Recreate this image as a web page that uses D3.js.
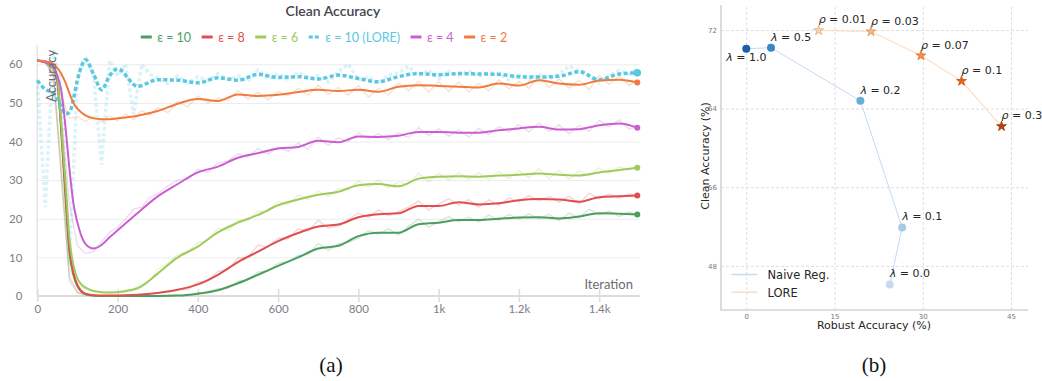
<!DOCTYPE html>
<html>
<head>
<meta charset="utf-8">
<script src="https://cdn.jsdelivr.net/npm/d3@7"></script>
<style>
  body { margin: 0; background: #fff; }
  svg { display: block; }
</style>
</head>
<body>
<svg id="chart" width="1042" height="381"></svg>
<script>
// ---------------- (a) training curves ----------------
const iters = [0, 20, 40, 50, 60, 70, 80, 90, 100, 110, 120, 140, 160, 180, 200,
  250, 300, 350, 400, 450, 500, 550, 600, 650, 700, 750, 800, 850, 900, 950,
  1000, 1050, 1100, 1150, 1200, 1250, 1300, 1350, 1400, 1450, 1495];

const eps10 = [61, 60.5, 59, 55.5, 42, 26, 11.5, 5.5, 2.5, 1.1, 0.5, 0.1, 0, 0, 0,
  0, 0, 0.1, 0.6, 1.5, 3.3, 5.5, 7.8, 10, 12.3, 13, 15.5, 16.4, 16.4, 18.6,
  19, 19.7, 19.7, 20, 20.3, 20.4, 20.1, 20.6, 21.4, 21.3, 21.1];
const eps8 = [61, 60.5, 59, 56, 43, 27.5, 12.5, 6, 2.8, 1.3, 0.6, 0.2, 0.1, 0.1, 0.1,
  0.3, 0.8, 1.6, 3, 5.5, 8.8, 11.5, 14.2, 16.3, 18, 18.5, 20.4, 21.2, 21.4, 23.3,
  23.3, 24.3, 23.7, 24, 24.8, 25.1, 25, 24.4, 25.6, 25.8, 26];
const eps6 = [61, 60.5, 59, 56.5, 44, 30, 15, 8, 4.5, 3, 2.2, 1.3, 1, 0.9, 1,
  2, 5.8, 10, 12.8, 16.5, 19, 21, 23.5, 25, 26.2, 27, 28.7, 29, 28.4, 30.4,
  30.9, 31, 30.9, 31.2, 31.4, 31.7, 31.4, 31.2, 32, 32.6, 33.2];
const lore10 = [55.8, 53.5, 52.5, 51, 49, 47.2, 47.5, 51, 56, 59.5, 61.2, 57.5, 53.4, 57, 58.8,
  54.3, 56, 55.9, 55.2, 56.5, 55.9, 57.4, 56.6, 56.8, 56.2, 57.2, 56.3, 55.5, 56.8, 57.6,
  57.3, 57.6, 57.5, 57.4, 56.8, 56.7, 56.9, 58.1, 56, 57.5, 57.8];
const eps4 = [61, 60.5, 59.5, 57, 53, 44, 33, 24, 19, 15.5, 13.5, 12.3, 13.2, 15.2, 17,
  21.5, 25.8, 29, 32, 33.5, 35.8, 37, 38.2, 38.6, 40.2, 39.8, 41.3, 41.2, 41.5, 42.5,
  42.5, 42.3, 42.3, 42.9, 43.4, 43.8, 43.1, 43.2, 44.2, 44.7, 43.6];
const eps2 = [61, 60.8, 60, 59, 57.5, 55.3, 52.5, 50, 48.5, 47.5, 46.8, 46, 45.8, 45.8, 46,
  46.7, 47.9, 49.8, 51, 50.5, 52.2, 51.8, 52.1, 52.8, 53.4, 53.1, 53.4, 52.9, 54.2, 54.6,
  54.4, 54.2, 54, 55, 54.5, 55.9, 55, 54.7, 55.8, 56, 55.3];

// raw (unsmoothed) runs, drawn faint behind the smoothed ones
const rawIters = [0, 20, 40, 60, 80, 100, 120, 140, 160, 180, 200, 220, 240, 260, 280, 300,
  325, 350, 375, 400, 425, 450, 475, 500, 525, 550, 575, 600, 625, 650, 675, 700,
  725, 750, 775, 800, 825, 850, 875, 900, 925, 950, 975, 1000, 1025, 1050, 1075, 1100,
  1125, 1150, 1175, 1200, 1225, 1250, 1275, 1300, 1325, 1350, 1375, 1400, 1425, 1450, 1475, 1495];

const eps10Raw = [61.2, 60.4, 57, 30, 4, 0.8, 0.2, 0, 0, 0.1, 0, 0, 0.1, 0, 0, 0.1,
  0, 0.2, 0.1, 0.8, 1, 1.9, 2, 3.8, 4.2, 6.2, 6.5, 8.5, 8.8, 10.5, 10.8, 13.6,
  11.8, 13.5, 13.9, 15, 16.9, 16, 17.4, 15.8, 18, 19.9, 17.8, 19.2, 20.6, 19.2, 20.4, 19.1,
  21, 19.6, 21.1, 19.9, 21.3, 20, 21.2, 19.5, 21.5, 20.2, 22.5, 21, 22, 20.6, 21.8, 20.9];
const eps8Raw = [61, 60.5, 57.5, 32, 5, 1, 0.3, 0.1, 0, 0.2, 0.1, 0.2, 0.3, 0.2, 0.6, 0.8,
  1, 1.8, 1.6, 3.6, 3.9, 6.4, 6.8, 9.8, 10, 13.2, 12.6, 15, 14.8, 17.4, 16.8, 19.6,
  17.6, 18.2, 19.8, 21.5, 20.3, 22.3, 20.8, 21.9, 23, 24.6, 22.3, 23.8, 25.2, 23.6, 25, 23,
  24.9, 23.5, 25.4, 24.4, 26, 24.6, 25.8, 24.3, 25.8, 23.9, 26.6, 25.2, 26.4, 25.3, 26.5, 25.9];
const eps6Raw = [61, 60.5, 58, 34, 7, 3, 1.8, 1.2, 0.8, 1.2, 0.9, 1.6, 1.8, 3, 4, 6.8,
  8.5, 10.8, 11.5, 13.8, 14.5, 17.5, 17, 19.5, 19.6, 22, 21.8, 24.5, 23.6, 26.2, 25, 27.2,
  25.8, 27.8, 27.5, 29.8, 28.2, 30, 28, 29.5, 29, 31.8, 29.5, 31.8, 30, 32, 30.2, 32,
  30.1, 32.3, 30.5, 32.4, 30.6, 33, 30.4, 32.6, 30.2, 32.5, 31, 33.2, 31.8, 33.4, 32.6, 33.5];
const lore10Raw = [56, 23, 64, 54, 8, 56, 62, 57, 34, 61, 57, 60, 47, 60, 57.5, 56.5,
  55, 57, 55.2, 56.8, 55.8, 57.6, 56, 57, 55.6, 58.5, 56.2, 57.6, 56, 58, 56.3, 57,
  55.4, 58.2, 60, 56, 56.8, 55, 57.2, 57.8, 59.5, 57, 58.5, 56.2, 58.2, 57, 58.4, 56.8,
  58, 57.4, 56, 57.2, 56, 57.4, 56.2, 57.5, 59.5, 58.4, 57, 55.2, 57, 58.5, 57.4, 58.8];
const eps4Raw = [61, 60.5, 59, 47, 24, 13, 11, 11.5, 14, 16.5, 17.8, 20, 22.5, 23, 25.5, 26.5,
  28.5, 30, 30.2, 32.8, 32, 34.5, 35, 36.8, 36, 38.2, 36.8, 38.5, 37.5, 39.6, 38, 41.2,
  39, 41, 40, 42.2, 40.8, 42, 40.5, 42.3, 41, 43.6, 41.5, 43.3, 41.4, 43, 41.2, 43.4,
  41.8, 43.9, 42.4, 44.4, 42.5, 44.9, 42.6, 44.3, 42, 44.2, 42.6, 45.5, 43.8, 45.6, 43.2, 44];
const eps2Raw = [61, 60.8, 58.5, 52, 46, 46.5, 45.2, 46.5, 45, 46.6, 45.4, 47.2, 45.6, 48, 46.8, 48.8,
  47.5, 50.3, 49, 51.8, 50, 51.2, 50.6, 53.2, 51, 52.8, 50.8, 53, 51.8, 53.8, 52, 54.6,
  52.2, 54, 52, 54.5, 51.5, 53.8, 52, 55.2, 53.2, 55.6, 52.8, 55.5, 53, 55.4, 52.8, 55,
  53.2, 56, 53.6, 55.6, 53.8, 57, 54, 56.2, 53.8, 55.9, 53.4, 57.2, 54.8, 57, 54.5, 56];

const seriesNames = ["ε = 10", "ε = 8", "ε = 6", "ε = 10 (LORE)", "ε = 4", "ε = 2"];
const seriesColors = ["#4b9e5f", "#e04f4f", "#9fcb5a", "#5ac8e0", "#c95fcf", "#ef7b3e"];
const smoothSeries = [eps10, eps8, eps6, lore10, eps4, eps2];
const rawSeries = [eps10Raw, eps8Raw, eps6Raw, lore10Raw, eps4Raw, eps2Raw];

const yTicks = [0, 10, 20, 30, 40, 50, 60];
const xTicks = [0, 200, 400, 600, 800, 1000, 1200, 1400];
const xTickLabels = ["0", "200", "400", "600", "800", "1k", "1.2k", "1.4k"];

// ---------------- (b) trade-off ----------------
const naiveLambda = ["1.0", "0.5", "0.2", "0.1", "0.0"];
const naiveRobust = [0.0, 4.2, 19.4, 26.5, 24.4];
const naiveClean = [70.1, 70.2, 64.8, 51.9, 46.1];
const loreRho = ["0.01", "0.03", "0.07", "0.1", "0.3"];
const loreRobust = [12.3, 21.2, 29.7, 36.6, 43.4];
const loreClean = [71.96, 71.85, 69.4, 66.8, 62.2];
const naiveColors = ["#1c5ea8", "#3a87c4", "#6aaed6", "#a4cbe4", "#c6dbef"];
const loreColors = ["#fdd2a8", "#fdb67a", "#fd8c3e", "#ec6210", "#b8400b"];
const bXTicks = [0, 15, 30, 45];
const bYTicks = [48, 56, 64, 72];

const FONT_A = "Lato, 'Open Sans', sans-serif";
const FONT_B = "'DejaVu Sans', sans-serif";

const svg = d3.select("#chart");

////////////////////////////////////////////////////////////////////////////////////
// panel (a)

const x = d3.scaleLinear().domain([0, 1500]).range([37.3, 639.3]);
const y = d3.scaleLinear().domain([0, 65]).range([296, 45]);

const ga = svg.append("g");

// grid + y labels
ga.append("g")
  .call(d3.axisLeft(y).tickValues(yTicks).tickSize(-602).tickPadding(15))
  .call(g => g.select(".domain").remove())
  .call(g => g.selectAll(".tick line").attr("stroke", "#ececec").attr("stroke-width", 1))
  .call(g => g.selectAll(".tick text").attr("fill", "#7d7d86").attr("font-size", 11.5).attr("font-family", FONT_A))
  .attr("transform", "translate(37.3,0)");

// left axis line
ga.append("line")
  .attr("x1", 37.3).attr("x2", 37.3).attr("y1", 45).attr("y2", 296)
  .attr("stroke", "#e4e4e4").attr("stroke-width", 1.5);

// bottom axis
ga.append("g")
  .attr("transform", "translate(0,296)")
  .call(d3.axisBottom(x).tickValues(xTicks).tickFormat((d, i) => xTickLabels[i]).tickSize(6).tickPadding(3))
  .call(g => g.select(".domain").remove())
  .call(g => g.selectAll(".tick line").attr("y1", -7).attr("stroke", "#dcdcdc").attr("stroke-width", 1.5))
  .call(g => g.selectAll(".tick text").attr("fill", "#7d7d86").attr("font-size", 11.5).attr("font-family", FONT_A));

ga.append("line")
  .attr("x1", 37.3).attr("x2", 640).attr("y1", 296).attr("y2", 296)
  .attr("stroke", "#dcdcdc").attr("stroke-width", 2);

const lineSmooth = d3.line().x((d, i) => x(iters[i])).y(d => y(d)).curve(d3.curveMonotoneX);
const lineRaw = d3.line().x((d, i) => x(rawIters[i])).y(d => y(d));

// raw, faint
rawSeries.forEach((s, k) => {
  const isLore = k === 3;
  ga.append("path")
    .attr("d", lineRaw(s))
    .attr("fill", "none")
    .attr("stroke", seriesColors[k])
    .attr("stroke-opacity", isLore ? 0.22 : 0.25)
    .attr("stroke-width", isLore ? 3.5 : 1.3)
    .attr("stroke-dasharray", isLore ? "3.5,2.5" : null);
});

// smoothed
smoothSeries.forEach((s, k) => {
  const isLore = k === 3;
  ga.append("path")
    .attr("d", lineSmooth(s))
    .attr("fill", "none")
    .attr("stroke", seriesColors[k])
    .attr("stroke-width", isLore ? 3.5 : 2)
    .attr("stroke-dasharray", isLore ? "4,2.5" : null);
  ga.append("circle")
    .attr("cx", x(iters[iters.length - 1]))
    .attr("cy", y(s[s.length - 1]))
    .attr("r", isLore ? 3.8 : 3)
    .attr("fill", seriesColors[k]);
});

// axis titles
ga.append("text")
  .attr("transform", "translate(55.5,102) rotate(-90)")
  .attr("font-family", FONT_A).attr("font-size", 13).attr("fill", "#6b6b74")
  .text("Accuracy");
ga.append("text")
  .attr("x", 633).attr("y", 289).attr("text-anchor", "end")
  .attr("font-family", FONT_A).attr("font-size", 13).attr("fill", "#6b6b74")
  .text("Iteration");

// title
ga.append("text")
  .attr("x", 333).attr("y", 16).attr("text-anchor", "middle")
  .attr("font-family", FONT_A).attr("font-size", 14).attr("font-weight", 600).attr("fill", "#45454d")
  .text("Clean Accuracy");

// legend
const legend = ga.append("g");
let lx = 0;
seriesNames.forEach((name, k) => {
  const it = legend.append("g");
  it.append("line")
    .attr("x1", 0).attr("x2", 11).attr("y1", 0).attr("y2", 0)
    .attr("stroke", seriesColors[k]).attr("stroke-width", 3)
    .attr("stroke-dasharray", k === 3 ? "4,2" : null);
  const t = it.append("text")
    .attr("x", 16.5).attr("y", 4.5)
    .attr("font-family", FONT_A).attr("font-size", 12.5).attr("fill", seriesColors[k])
    .text(name);
  const w = 16.5 + t.node().getComputedTextLength();
  it.attr("transform", `translate(${lx},0)`);
  lx += w + 10.5;
});
const legendW = lx - 10.5;
legend.attr("transform", `translate(${324 - legendW / 2},37)`);

////////////////////////////////////////////////////////////////////////////////////
// panel (b)

const xr = d3.scaleLinear().domain([-4.3, 47.9]).range([721, 1028]);
const yr = d3.scaleLinear().domain([43.5, 74.55]).range([310, 5]);
const gb = svg.append("g");

gb.append("g")
  .attr("transform", "translate(0,310)")
  .call(d3.axisBottom(xr).tickValues(bXTicks).tickSize(-305).tickPadding(4))
  .call(g => g.select(".domain").remove())
  .call(g => g.selectAll(".tick line").attr("stroke", "#dedede").attr("stroke-dasharray", "3,2"))
  .call(g => g.selectAll(".tick text").attr("fill", "#777").attr("font-size", 7).attr("font-family", FONT_B));

gb.append("g")
  .attr("transform", "translate(721,0)")
  .call(d3.axisLeft(yr).tickValues(bYTicks).tickSize(-307).tickPadding(4))
  .call(g => g.select(".domain").remove())
  .call(g => g.selectAll(".tick line").attr("stroke", "#dedede").attr("stroke-dasharray", "3,2"))
  .call(g => g.selectAll(".tick text").attr("fill", "#777").attr("font-size", 7).attr("font-family", FONT_B));

// spines
gb.append("path")
  .attr("d", "M721,5V310H1028")
  .attr("fill", "none").attr("stroke", "#d4d4d4").attr("stroke-width", 1.6);

const bLine = d3.line().x(d => xr(d[0])).y(d => yr(d[1]));

gb.append("path")
  .attr("d", bLine(naiveRobust.map((v, i) => [v, naiveClean[i]])))
  .attr("fill", "none").attr("stroke", "#c6dbef").attr("stroke-width", 1);
gb.append("path")
  .attr("d", bLine(loreRobust.map((v, i) => [v, loreClean[i]])))
  .attr("fill", "none").attr("stroke", "#fedcbd").attr("stroke-width", 1.1);

naiveRobust.forEach((v, i) => {
  gb.append("circle")
    .attr("cx", xr(v)).attr("cy", yr(naiveClean[i])).attr("r", 4)
    .attr("fill", naiveColors[i]);
});
const star = d3.symbol().type(d3.symbolStar).size(30);
loreRobust.forEach((v, i) => {
  gb.append("path")
    .attr("d", star())
    .attr("transform", `translate(${xr(v)},${yr(loreClean[i])})`)
    .attr("fill", loreColors[i])
    .attr("stroke", d3.color(loreColors[i]).darker(0.5))
    .attr("stroke-width", 0.8);
});

function annotate(px, py, sym, val) {
  const t = gb.append("text")
    .attr("x", px).attr("y", py)
    .attr("font-family", FONT_B).attr("font-size", 11).attr("fill", "#262626");
  t.append("tspan").attr("font-style", "italic").text(sym);
  t.append("tspan").text(" = " + val);
}
naiveLambda.forEach((lab, i) => {
  const px = xr(naiveRobust[i]), py = yr(naiveClean[i]);
  if (lab === "1.0") annotate(px - 20, py + 12, "λ", lab);
  else annotate(px, py - 7, "λ", lab);
});
loreRho.forEach((lab, i) => {
  annotate(xr(loreRobust[i]), yr(loreClean[i]) - 7, "ρ", lab);
});

// legend
[["Naive Reg.", "#c6dbef"], ["LORE", "#fedcbd"]].forEach(([name, c], i) => {
  const ly = 274.5 + i * 17.7;
  gb.append("line").attr("x1", 731.5).attr("x2", 757).attr("y1", ly).attr("y2", ly)
    .attr("stroke", c).attr("stroke-width", 1.5);
  gb.append("text").attr("x", 767.5).attr("y", ly + 4.3)
    .attr("font-family", FONT_B).attr("font-size", 11.5).attr("fill", "#262626")
    .text(name);
});

gb.append("text")
  .attr("transform", "translate(708.5,156) rotate(-90)")
  .attr("text-anchor", "middle")
  .attr("font-family", FONT_B).attr("font-size", 11).attr("fill", "#262626")
  .text("Clean Accuracy (%)");
gb.append("text")
  .attr("x", 874).attr("y", 329).attr("text-anchor", "middle")
  .attr("font-family", FONT_B).attr("font-size", 11).attr("fill", "#262626")
  .text("Robust Accuracy (%)");

// captions
svg.append("text").attr("x", 331).attr("y", 372).attr("text-anchor", "middle")
  .attr("font-family", "'Liberation Serif', serif").attr("font-size", 21).attr("fill", "#111")
  .text("(a)");
svg.append("text").attr("x", 874).attr("y", 372).attr("text-anchor", "middle")
  .attr("font-family", "'Liberation Serif', serif").attr("font-size", 21).attr("fill", "#111")
  .text("(b)");
</script>
</body>
</html>
